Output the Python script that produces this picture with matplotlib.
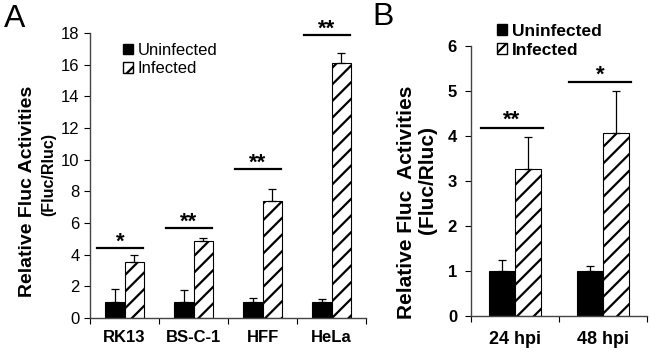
import numpy as np
import matplotlib
matplotlib.use('Agg')
import matplotlib.pyplot as plt
from matplotlib.patches import Patch

plt.rcParams['font.family'] = ['Liberation Sans', 'DejaVu Sans']
plt.rcParams['hatch.linewidth'] = 1.6

# panel A
cells = ['RK13', 'BS-C-1', 'HFF', 'HeLa']
a_uninf = [1.0, 1.0, 1.0, 1.0]
a_uninf_err = [0.82, 0.8, 0.28, 0.2]
a_inf = [3.52, 4.85, 7.42, 16.12]
a_inf_err = [0.45, 0.18, 0.7, 0.6]
a_sig = ['*', '**', '**', '**']
a_sig_y = [4.45, 5.7, 9.4, 17.9]

# panel B
times = ['24 hpi', '48 hpi']
b_uninf = [1.0, 1.0]
b_uninf_err = [0.24, 0.12]
b_inf = [3.26, 4.07]
b_inf_err = [0.72, 0.92]
b_sig = ['**', '*']
b_sig_y = [4.17, 5.2]

fig = plt.figure(figsize=(6.5, 3.54), dpi=100)
axA = fig.add_axes([0.1385, 0.1017, 0.4246, 0.805])
axB = fig.add_axes([0.7246, 0.1073, 0.2708, 0.7636])


def draw(ax, labels, un, un_err, inf, inf_err, sig, sig_y, w, span, star_dy, xfs, xpad, yfs, ybold):
    x = np.arange(len(labels))
    ek = dict(ecolor='black', elinewidth=0.9, capsize=3, capthick=0.9)
    ax.bar(x - w / 2, un, w, color='black', edgecolor='black', linewidth=0.8,
           yerr=[np.zeros(len(un)), un_err], error_kw=ek)
    ax.bar(x + w / 2, inf, w, color='white', edgecolor='black', linewidth=0.8, hatch='//',
           yerr=[np.zeros(len(inf)), inf_err], error_kw=ek)
    for i in range(len(labels)):
        ax.plot([i - span[0], i + span[1]], [sig_y[i], sig_y[i]], color='black', lw=1.6, clip_on=False)
        ax.annotate(sig[i], (i + (span[1] - span[0]) / 2, sig_y[i]), xytext=(0, star_dy[i]),
                    textcoords='offset points', ha='center', va='baseline',
                    fontsize=16, fontweight='bold', annotation_clip=False)
    ax.set_xlim(-0.5, len(labels) - 0.5)
    ax.set_xticks(np.arange(len(labels) + 1) - 0.5)
    ax.set_xticklabels([])
    ax.set_xticks(x, minor=True)
    ax.set_xticklabels(labels, minor=True, fontsize=xfs, fontweight='bold')
    ax.tick_params(axis='x', which='minor', length=0, pad=xpad)
    ax.tick_params(axis='x', which='major', length=4, direction='out')
    ax.tick_params(axis='y', length=4, direction='out')
    for s in ['top', 'right']:
        ax.spines[s].set_visible(False)
    for s in ['left', 'bottom']:
        ax.spines[s].set_color('#444444')
        ax.spines[s].set_linewidth(1.0)
    for t in ax.get_yticklabels():
        t.set_fontsize(yfs)
        if ybold:
            t.set_fontweight('bold')


axA.set_ylim(0, 18)
axA.set_yticks(np.arange(0, 19, 2))
draw(axA, cells, a_uninf, a_uninf_err, a_inf, a_inf_err, a_sig, a_sig_y, 0.28, (0.4, 0.27),
     [0, 0, 0, 0], 12, 9, 12, False)

axB.set_ylim(0, 6)
axB.set_yticks(np.arange(0, 7, 1))
draw(axB, times, b_uninf, b_uninf_err, b_inf, b_inf_err, b_sig, b_sig_y, 0.3, (0.39, 0.32),
     [2, 0.5], 13, 11, 12, True)
axB.tick_params(axis='y', pad=6)

# y axis titles (two lines, each centred on its own)
fig.text(28 / 650, 1 - 191 / 354, 'Relative Fluc Activities', rotation=90, ha='center', va='center',
         fontsize=14, fontweight='bold')
fig.text(49 / 650, 1 - 175 / 354, '(Fluc/Rluc)', rotation=90, ha='center', va='center',
         fontsize=11.5, fontweight='bold')
fig.text(407 / 650, 1 - 202 / 354, 'Relative Fluc  Activities', rotation=90, ha='center', va='center',
         fontsize=15, fontweight='bold')
fig.text(428 / 650, 1 - 180 / 354, '(Fluc/Rluc)', rotation=90, ha='center', va='center',
         fontsize=15, fontweight='bold')

handles = [Patch(facecolor='black', edgecolor='black', label='Uninfected'),
           Patch(facecolor='white', edgecolor='black', hatch='//', label='Infected')]
axA.legend(handles=handles, loc='upper left', bbox_to_anchor=(0.12, 0.965), frameon=False,
           borderpad=0, borderaxespad=0, fontsize=12, handlelength=0.6, handleheight=0.6,
           handletextpad=0.25, labelspacing=0.2)
axB.legend(handles=handles, loc='upper left', bbox_to_anchor=(0.148, 1.08), frameon=False,
           borderpad=0, borderaxespad=0, prop=dict(size=12.5, weight='bold'), handlelength=0.6,
           handleheight=0.6, handletextpad=0.25, labelspacing=0.2)

fig.text(4 / 650, 1 - 4 / 354, 'A', fontsize=23, va='top', ha='left')
fig.text(372 / 650, 1 - 2 / 354, 'B', fontsize=23, va='top', ha='left')

fig.savefig('out.png', dpi=100)
